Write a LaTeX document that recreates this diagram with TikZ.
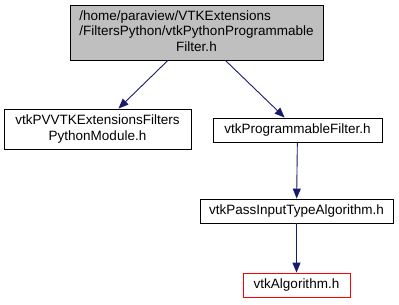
\documentclass[tikz,border=0pt]{standalone}
\usepackage{fontspec}
\setmainfont{Liberation Sans}
\usetikzlibrary{arrows.meta}
\definecolor{edgeblue}{HTML}{191970}
\definecolor{rootgray}{HTML}{BFBFBF}
\begin{document}
\begin{tikzpicture}[x=1pt,y=-1pt,
  filebox/.style={draw=black,line width=0.9pt,fill=white,inner sep=0pt,
    align=center,font=\fontsize{13.5}{15.5}\selectfont},
  rootbox/.style={filebox,fill=rootgray},
  missbox/.style={filebox,draw=red},
  dep/.style={draw=edgeblue,line width=0.9pt,-{Triangle[length=10pt,width=8pt]}}]
\useasboundingbox (0,0) rectangle (399,305);
\node[rootbox,minimum width=253pt,minimum height=55pt] (root) at (196.5,32.5)
  {\begin{tabular}{@{}l@{}}/home/paraview/VTKExtensions\\
   /FiltersPython/vtkPythonProgrammable\\
   \multicolumn{1}{@{}c@{}}{Filter.h}\end{tabular}};
\node[filebox,minimum width=187pt,minimum height=40pt] (module) at (97.5,129)
  {vtkPVVTKExtensionsFilters\\PythonModule.h};
\node[filebox,minimum width=169pt,minimum height=24pt] (progfilter) at (297.5,130)
  {vtkProgrammableFilter.h};
\node[filebox,minimum width=193pt,minimum height=24pt] (passinput) at (296.5,211)
  {vtkPassInputTypeAlgorithm.h};
\node[missbox,minimum width=107pt,minimum height=24pt] (algorithm) at (296.5,285)
  {vtkAlgorithm.h};
\draw[dep] (root) -- (module);
\draw[dep] (root) -- (progfilter);
\draw[dep] (progfilter) -- (passinput);
\draw[dep] (passinput) -- (algorithm);
\end{tikzpicture}
\end{document}
